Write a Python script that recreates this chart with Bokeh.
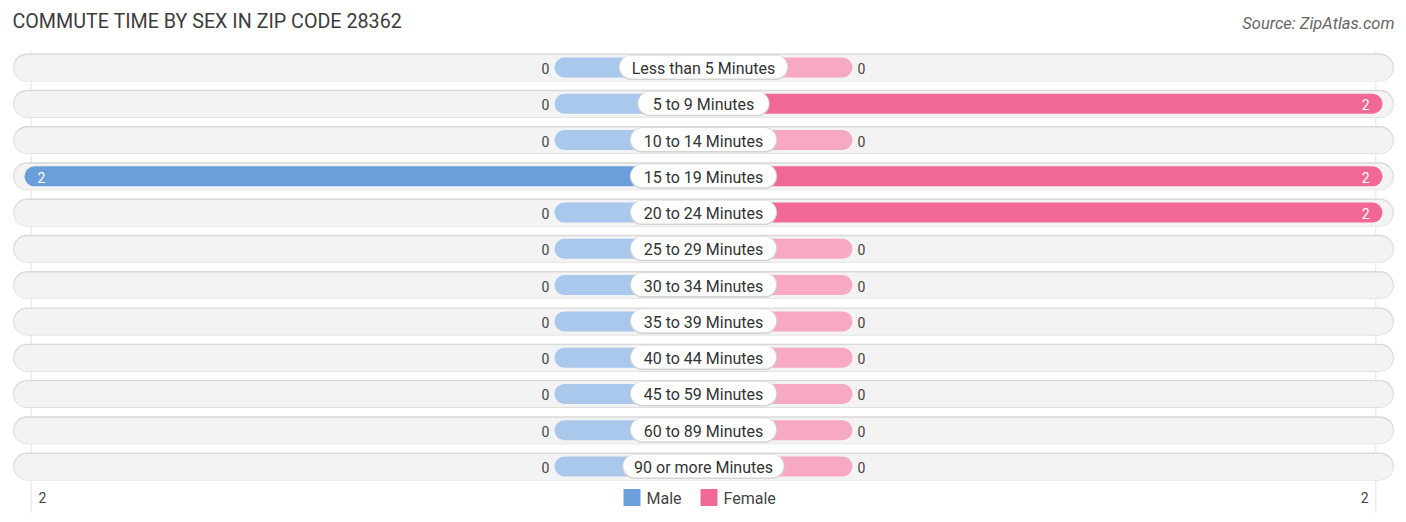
from bokeh.plotting import figure
from bokeh.models import Range1d, Label, ColumnDataSource
from bokeh.core.properties import value
from bokeh.embed import file_html
from bokeh.resources import INLINE

categories = ["Less than 5 Minutes", "5 to 9 Minutes", "10 to 14 Minutes", "15 to 19 Minutes",
              "20 to 24 Minutes", "25 to 29 Minutes", "30 to 34 Minutes", "35 to 39 Minutes",
              "40 to 44 Minutes", "45 to 59 Minutes", "60 to 89 Minutes", "90 or more Minutes"]
male = [0, 0, 0, 2, 0, 0, 0, 0, 0, 0, 0, 0]
female = [0, 2, 0, 2, 2, 0, 0, 0, 0, 0, 0, 0]
axis_labels = ["2", "2"]
legend_labels = ["Male", "Female"]
title = "COMMUTE TIME BY SEX IN ZIP CODE 28362"
source_text = "Source: ZipAtlas.com"

FONT = "Roboto"
W, H = 1406, 522
PX_PER_UNIT = 334.5
ROW_PX = 36.27
ROW0 = 67.0
STUB = 0.4156
XMAX = (W / 2) / PX_PER_UNIT

n = len(categories)
rows = list(range(n))


def py(page_y):
    return (page_y - ROW0) / ROW_PX


p = figure(width=W, height=H, output_backend="svg", toolbar_location=None,
           x_range=Range1d(-XMAX, XMAX),
           y_range=Range1d(start=(H - ROW0) / ROW_PX, end=-ROW0 / ROW_PX),
           min_border=0, min_border_left=0, min_border_right=0,
           min_border_top=0, min_border_bottom=0)
p.axis.visible = False
p.grid.visible = False
p.outline_line_color = None
p.background_fill_color = "white"
p.border_fill_color = "white"

# faint vertical guide lines
p.segment(x0=[-2.01, 2.01], y0=[py(50)] * 2, x1=[-2.01, 2.01], y1=[py(512)] * 2,
          line_color="#e4e4e4", line_width=1)

# row background pills
BG_END = 2.022
p.segment(x0=[-BG_END] * n, y0=rows, x1=[BG_END] * n, y1=rows,
          line_color="#d9d9d9", line_width=28, line_cap="round")
p.segment(x0=[-BG_END] * n, y0=[r + 0.012 for r in rows], x1=[BG_END] * n,
          y1=[r + 0.012 for r in rows],
          line_color="#f3f3f3", line_width=26, line_cap="round")

m_disp = [v if v > 0 else STUB for v in male]
f_disp = [v if v > 0 else STUB for v in female]
m_col = ["#6a9fdb" if v > 0 else "#a9c8eb" for v in male]
f_col = ["#f06893" if v > 0 else "#f7a9c3" for v in female]

src = ColumnDataSource(dict(y=rows, mx=[-d for d in m_disp], fx=f_disp, mc=m_col, fc=f_col,
                            zero=[0.0] * n))
p.segment(x0="mx", y0="y", x1="zero", y1="y", source=src, line_color="mc",
          line_width=20, line_cap="round")
p.segment(x0="zero", y0="y", x1="fx", y1="y", source=src, line_color="fc",
          line_width=20, line_cap="round")

# value labels
for i in rows:
    if male[i] > 0:
        p.text(x=[-m_disp[i]], y=[i], text=[str(male[i])], text_color="white",
               text_font=value(FONT), text_font_size="14px", text_align="left",
               text_baseline="middle", x_offset=3, y_offset=1)
    else:
        p.text(x=[-m_disp[i]], y=[i], text=[str(male[i])], text_color="#444444",
               text_font=value(FONT), text_font_size="14px", text_align="right",
               text_baseline="middle", x_offset=-15, y_offset=1)
    if female[i] > 0:
        p.text(x=[f_disp[i]], y=[i], text=[str(female[i])], text_color="white",
               text_font=value(FONT), text_font_size="14px", text_align="right",
               text_baseline="middle", x_offset=-3, y_offset=1)
    else:
        p.text(x=[f_disp[i]], y=[i], text=[str(female[i])], text_color="#444444",
               text_font=value(FONT), text_font_size="14px", text_align="left",
               text_baseline="middle", x_offset=15, y_offset=1)

# category label pills (width estimated from label length)
half = [(7.45 * len(c) + 26 - 23) / 2 / PX_PER_UNIT for c in categories]
p.segment(x0=[-h for h in half], y0=rows, x1=half, y1=rows,
          line_color="#d4d4d4", line_width=25, line_cap="round")
p.segment(x0=[-h for h in half], y0=[r - 0.015 for r in rows], x1=half,
          y1=[r - 0.015 for r in rows],
          line_color="white", line_width=23, line_cap="round")
p.text(x=[0.0] * n, y=rows, text=categories, text_color="#333333",
       text_font=value(FONT), text_font_size="16px", text_align="center",
       text_baseline="middle", y_offset=1)

# axis tick labels
LEG_Y = py(497)
p.text(x=[-2.0, 2.0], y=[LEG_Y, LEG_Y], text=axis_labels, text_color="#444444",
       text_font=value(FONT), text_font_size="14px", text_align=["left", "right"],
       text_baseline="middle", x_offset=[4, -4])

# legend
p.scatter(x=[(631.5 - 703) / PX_PER_UNIT, (708.5 - 703) / PX_PER_UNIT], y=[LEG_Y, LEG_Y],
          marker="square", size=17, fill_color=["#6a9fdb", "#f06893"], line_color=None)
p.text(x=[(646 - 703) / PX_PER_UNIT, (723 - 703) / PX_PER_UNIT], y=[LEG_Y, LEG_Y],
       text=legend_labels, text_color="#444444",
       text_font=value(FONT), text_font_size="16px", text_align="left",
       text_baseline="middle", y_offset=1)

p.add_layout(Label(x=12, y=H - 21, x_units="screen", y_units="screen", text=title,
                   text_font=FONT, text_font_size="19.7px", text_color="#3d3d3d",
                   text_baseline="middle", text_align="left"))
p.add_layout(Label(x=1394, y=H - 23, x_units="screen", y_units="screen", text=source_text,
                   text_font=FONT, text_font_size="16.5px", text_font_style="italic",
                   text_color="#666666", text_baseline="middle", text_align="right"))

open("out.html", "w").write(file_html(p, INLINE))
